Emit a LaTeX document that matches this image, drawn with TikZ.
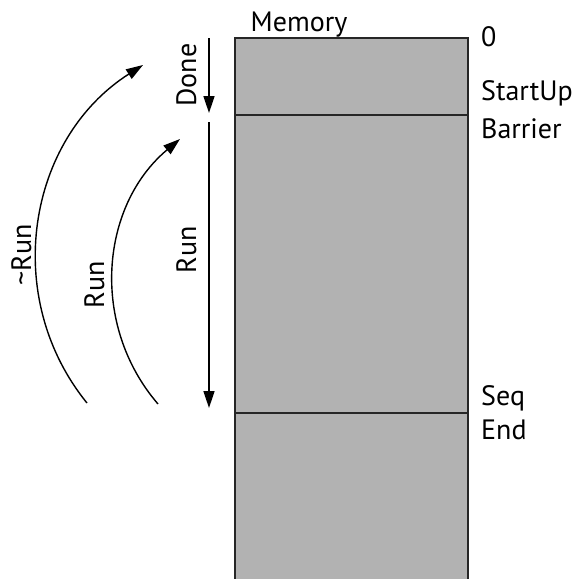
\documentclass[tikz,border=0pt]{standalone}
\usepackage{fontspec}
\setmainfont{PT Sans}
\usetikzlibrary{arrows.meta}
\begin{document}
\begin{tikzpicture}[x=1pt,y=-1pt,
  lbl/.style={font=\fontsize{28}{32}\selectfont, inner sep=0pt},
  flow/.style={line width=1.7pt, -{Triangle[length=17pt,width=11pt]}},
  loop/.style={line width=1.4pt, -{Triangle[length=17pt,width=11pt]}},
  memwall/.style={draw=black!85, line width=2pt, fill=black!30},
  split/.style={draw=black!85, line width=2pt}]
\useasboundingbox (0,0) rectangle (576,579);
\clip (0,0) rectangle (576,579);

% memory column and its segment borders
\coordinate (memTL) at (235,38);
\coordinate (memBR) at (468,600);
\path[memwall] (memTL) rectangle (memBR);
\coordinate (b1L) at (235,115); \coordinate (b1R) at (468,115);
\coordinate (b2L) at (235,413); \coordinate (b2R) at (468,413);
\draw[split] (b1L) -- (b1R);
\draw[split] (b2L) -- (b2R);

% labels
\node[lbl, anchor=base] (memory) at (299,31) {Memory};
\node[lbl, anchor=base west] (zero) at (481,46) {0};
\node[lbl, anchor=base west] (startup) at (481,100) {StartUp};
\node[lbl, anchor=base west] (barrier) at (481,138) {Barrier};
\node[lbl, anchor=base west] (seq) at (481,405) {Seq};
\node[lbl, anchor=base west] (end) at (481,439) {End};

\node[lbl, rotate=90, anchor=base] (done) at (196,75) {Done};
\node[lbl, rotate=90, anchor=base] (runA) at (196,250) {Run};
\node[lbl, rotate=90, anchor=base] (runB) at (104,285) {Run};
\node[lbl, rotate=90, anchor=base] (notrun) at (31,255) {\textasciitilde Run};

% straight progress arrows
\coordinate (doneS) at (209,38);  \coordinate (doneE) at (209,113);
\coordinate (runS) at (209,122);  \coordinate (runE) at (209,408);
\draw[flow] (doneS) -- (doneE);
\draw[flow] (runS) -- (runE);

% curved transition arrows
\coordinate (outerS) at (87,403); \coordinate (outerE) at (143,65);
\draw[loop] (outerS) .. controls (1,297) and (27,139) .. (outerE);
\coordinate (innerS) at (158,404); \coordinate (innerE) at (180,139);
\draw[loop] (innerS) .. controls (90,325) and (100,206) .. (innerE);
\end{tikzpicture}
\end{document}
